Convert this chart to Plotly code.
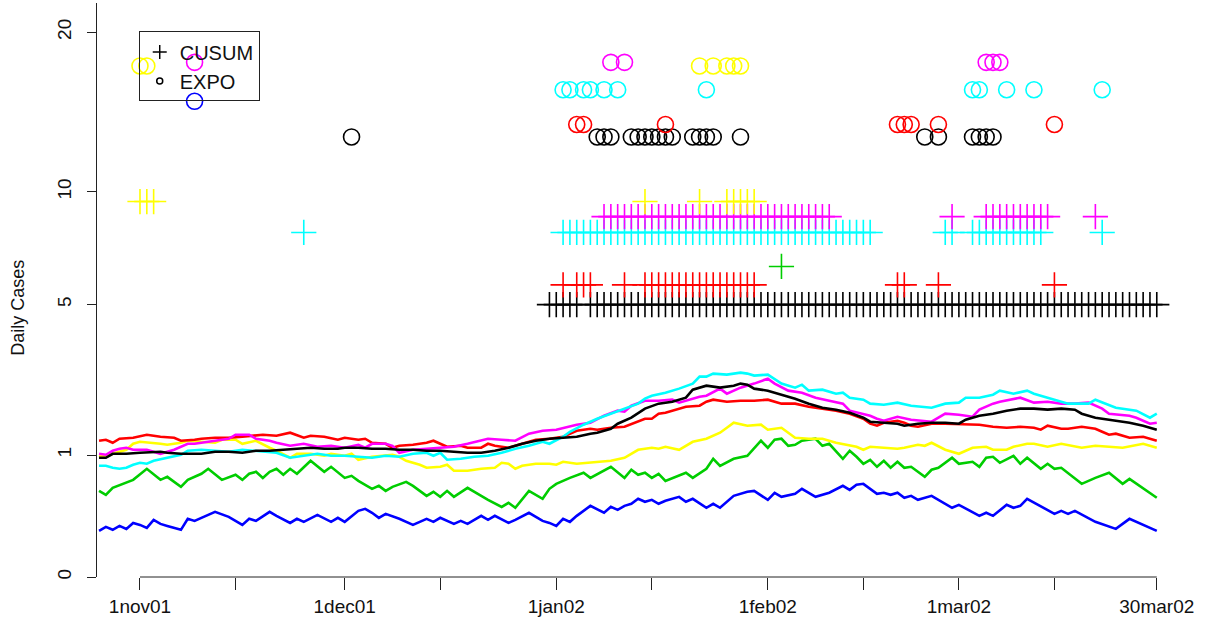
import numpy as np
import pandas as pd
import plotly.graph_objects as go

START = pd.Timestamp("2001-11-01")  # day 0

# ---------------- daily case series (day offset from 1 Nov 2001, daily cases) ----------------
BLUE_DAYS = [-6,-5,-4,-3,-2,-1,0,1,2,3,4,6,7,8,9,11,13,15,16,17,19,20,22,23,24,26,28,29,30,32,33,34,35,36,38,40,42,43,44,46,47,48,50,51,52,54,55,57,59,60,61,62,63,64,66,68,69,70,71,72,73,74,75,76,77,79,80,81,83,84,85,87,89,90,92,93,94,96,97,99,101,103,104,105,106,108,109,110,111,112,113,114,116,119,120,123,124,125,127,128,129,130,134,135,136,137,140,143,145,149]
BLUE_VALS = [0.143,0.169,0.150,0.176,0.156,0.197,0.183,0.163,0.220,0.190,0.176,0.150,0.228,0.212,0.236,0.286,0.244,0.183,0.228,0.212,0.286,0.252,0.197,0.228,0.205,0.260,0.205,0.236,0.205,0.295,0.313,0.278,0.236,0.269,0.228,0.183,0.228,0.205,0.236,0.190,0.212,0.190,0.252,0.220,0.252,0.197,0.220,0.278,0.212,0.197,0.176,0.228,0.205,0.252,0.341,0.278,0.332,0.304,0.341,0.361,0.412,0.381,0.401,0.361,0.391,0.433,0.381,0.412,0.323,0.361,0.323,0.444,0.489,0.500,0.401,0.478,0.433,0.466,0.524,0.433,0.478,0.560,0.512,0.573,0.585,0.466,0.478,0.455,0.478,0.423,0.444,0.401,0.444,0.323,0.351,0.252,0.278,0.252,0.351,0.323,0.341,0.412,0.269,0.295,0.269,0.295,0.205,0.156,0.228,0.143]

GREEN_DAYS = [-6,-5,-4,-1,1,3,4,6,7,8,9,10,12,14,15,16,17,18,19,20,21,22,23,25,27,28,30,31,32,34,35,36,37,39,40,42,43,44,45,46,48,51,53,54,55,57,59,60,61,63,65,66,69,71,72,73,74,75,76,77,80,81,83,84,85,87,89,91,92,93,94,95,96,97,99,100,101,103,104,105,106,107,108,109,110,111,112,113,115,116,117,119,120,122,123,124,125,126,128,129,130,132,133,134,135,138,140,142,144,145,149]
GREEN_VALS = [0.500,0.455,0.536,0.636,0.789,0.636,0.676,0.548,0.636,0.676,0.718,0.789,0.636,0.704,0.636,0.718,0.746,0.662,0.746,0.789,0.704,0.789,0.718,0.910,0.746,0.818,0.662,0.690,0.623,0.524,0.560,0.500,0.548,0.610,0.560,0.444,0.489,0.433,0.500,0.433,0.536,0.401,0.331,0.371,0.323,0.500,0.412,0.524,0.585,0.662,0.732,0.662,0.818,0.662,0.775,0.704,0.732,0.662,0.718,0.623,0.732,0.662,0.789,0.942,0.833,0.942,0.990,1.251,1.126,1.270,1.288,1.160,1.178,1.251,1.288,1.160,1.196,0.942,1.074,0.974,0.864,0.926,0.818,0.910,0.804,0.894,0.804,0.818,0.676,0.775,0.804,0.958,0.864,0.894,0.818,0.958,0.974,0.879,0.990,0.864,0.958,0.789,0.864,0.789,0.804,0.585,0.662,0.732,0.585,0.649,0.423]

YELLOW_DAYS = [-6,-5,-4,-2,-1,0,3,4,6,7,9,11,12,14,15,17,19,20,22,23,25,27,28,30,31,32,34,36,37,38,39,41,42,44,45,46,48,50,52,53,54,55,56,58,60,61,62,64,66,67,69,71,73,74,75,76,77,79,81,83,85,86,87,89,91,92,94,96,98,100,102,105,106,107,109,111,112,114,115,116,118,120,122,124,125,127,128,130,131,133,135,138,140,144,147,149]
YELLOW_VALS = [0.990,0.974,1.023,1.091,1.196,1.232,1.196,1.178,1.214,1.251,1.232,1.214,1.270,1.270,1.196,1.251,1.126,1.074,0.958,1.023,1.023,0.990,1.023,0.990,1.023,0.926,0.974,0.990,1.007,0.974,0.910,0.849,0.804,0.818,0.849,0.760,0.760,0.789,0.804,0.879,0.864,0.789,0.833,0.864,0.864,0.849,0.894,0.864,0.879,0.894,0.910,0.958,1.091,1.108,1.126,1.108,1.143,1.091,1.232,1.288,1.403,1.500,1.604,1.542,1.563,1.462,1.500,1.307,1.288,1.288,1.214,1.143,1.091,1.143,1.126,1.108,1.126,1.178,1.160,1.214,1.091,1.023,1.126,1.143,1.091,1.091,1.143,1.196,1.196,1.143,1.196,1.126,1.160,1.126,1.196,1.126]

RED_DAYS = [-6,-5,-4,-3,-1,1,2,3,5,6,8,9,11,13,15,18,20,22,24,25,27,29,30,32,33,34,36,37,38,40,42,43,44,45,47,48,50,51,52,54,56,58,60,62,64,66,67,69,71,73,74,75,76,77,78,80,82,83,84,86,88,90,92,94,96,98,100,102,104,106,107,108,109,110,111,112,113,114,116,118,121,123,125,127,129,131,132,133,135,136,138,140,141,142,143,145,147,149]
RED_VALS = [1.251,1.270,1.214,1.288,1.307,1.364,1.345,1.326,1.307,1.251,1.270,1.288,1.307,1.307,1.326,1.364,1.345,1.403,1.307,1.345,1.326,1.270,1.307,1.270,1.288,1.214,1.196,1.126,1.160,1.178,1.214,1.251,1.196,1.143,1.160,1.126,1.126,1.196,1.160,1.126,1.196,1.270,1.288,1.326,1.442,1.482,1.462,1.500,1.521,1.625,1.689,1.689,1.797,1.819,1.864,1.955,1.978,2.071,2.119,2.071,2.095,2.095,2.119,2.025,2.025,1.955,1.910,1.864,1.797,1.689,1.584,1.542,1.604,1.625,1.646,1.604,1.542,1.521,1.584,1.584,1.563,1.563,1.521,1.500,1.521,1.500,1.462,1.542,1.482,1.482,1.521,1.482,1.422,1.364,1.384,1.307,1.326,1.251]

MAGENTA_DAYS = [-6,-5,-4,-3,-2,-1,1,2,3,5,6,7,8,9,11,13,14,16,17,19,20,22,24,26,28,30,32,33,34,36,37,38,40,42,44,46,48,50,51,53,55,57,59,61,63,64,66,68,70,71,72,74,76,78,79,80,82,83,85,86,88,90,92,93,95,97,99,101,103,104,107,108,109,111,113,116,118,120,122,123,125,126,129,131,133,135,137,139,141,142,145,146,148,149]
MAGENTA_VALS = [1.023,1.007,1.074,1.108,1.126,1.091,1.091,1.057,1.023,1.091,1.143,1.196,1.196,1.214,1.251,1.288,1.364,1.364,1.288,1.251,1.214,1.160,1.196,1.143,1.160,1.126,1.178,1.126,1.196,1.196,1.160,1.040,1.091,1.108,1.126,1.143,1.196,1.251,1.288,1.270,1.251,1.384,1.442,1.462,1.521,1.563,1.604,1.753,1.864,1.841,1.978,2.095,2.095,2.119,2.048,2.095,2.190,2.215,2.391,2.265,2.416,2.520,2.652,2.520,2.340,2.290,2.167,2.095,2.025,1.864,1.753,1.689,1.646,1.731,1.668,1.625,1.797,1.775,1.731,1.887,2.025,2.071,2.167,2.048,2.071,2.025,2.025,2.048,1.910,1.797,1.753,1.710,1.584,1.604]

CYAN_DAYS = [-6,-5,-4,-3,-2,-1,0,1,2,4,6,7,9,11,13,15,17,19,20,22,24,26,28,30,32,34,36,38,40,42,43,44,45,47,49,51,53,55,57,59,60,62,63,65,67,69,71,73,74,75,77,79,81,82,83,84,86,88,89,90,92,94,96,97,98,100,102,103,104,106,107,109,111,113,116,118,120,121,123,125,126,128,130,131,133,136,139,140,143,146,148,149]
CYAN_VALS = [0.833,0.833,0.804,0.789,0.804,0.849,0.879,0.864,0.910,0.958,1.007,1.074,1.091,1.074,1.057,1.091,1.074,1.057,1.040,0.958,0.990,1.023,0.990,0.990,0.974,0.958,0.990,0.974,1.023,1.040,0.990,1.040,0.926,0.942,0.974,0.990,1.040,1.108,1.160,1.232,1.196,1.326,1.422,1.563,1.689,1.797,1.910,2.025,2.143,2.215,2.290,2.391,2.520,2.706,2.706,2.788,2.760,2.815,2.788,2.733,2.760,2.520,2.416,2.493,2.340,2.365,2.265,2.290,2.167,2.119,2.025,2.001,2.048,1.978,1.932,2.025,2.048,2.167,2.167,2.240,2.340,2.265,2.340,2.265,2.167,2.025,2.025,2.119,1.932,1.864,1.710,1.797]

BLACK_DAYS = [-6,-5,-4,-2,0,3,4,6,8,9,11,13,15,17,19,21,23,25,27,29,30,32,34,36,38,40,42,44,46,48,50,52,54,56,58,60,62,64,66,67,69,70,72,74,76,78,80,81,83,85,87,88,89,90,92,94,96,98,100,102,104,106,107,109,111,112,114,116,118,120,121,123,125,127,129,131,133,135,137,138,140,142,145,147,149]
BLACK_VALS = [0.958,0.958,1.023,1.023,1.040,1.057,1.040,1.023,1.023,1.023,1.057,1.057,1.040,1.074,1.074,1.091,1.108,1.126,1.108,1.108,1.126,1.126,1.108,1.108,1.091,1.091,1.074,1.074,1.057,1.040,1.040,1.074,1.126,1.196,1.251,1.288,1.307,1.326,1.384,1.403,1.482,1.584,1.710,1.910,2.025,2.071,2.167,2.365,2.467,2.416,2.467,2.520,2.493,2.391,2.340,2.240,2.143,2.025,1.932,1.887,1.819,1.710,1.625,1.604,1.584,1.542,1.584,1.604,1.604,1.584,1.668,1.753,1.797,1.864,1.910,1.910,1.887,1.910,1.887,1.797,1.710,1.668,1.604,1.542,1.462]

# ---------------- alarms ----------------
# CUSUM alarm runs (first day, last day) and the level at which they are drawn
CUSUM_BLACK = [(60, 64), (66, 149)]
CUSUM_RED = [(62, 62), (64, 66), (71, 71), (74, 90), (111, 112), (117, 117), (134, 134)]
CUSUM_GREEN = [(94, 94)]
CUSUM_CYAN = [(24, 24), (62, 107), (118, 119), (122, 132), (141, 141)]
CUSUM_MAGENTA = [(68, 101), (119, 119), (124, 133), (140, 140)]
CUSUM_YELLOW = [(0, 2), (74, 74), (82, 82), (86, 90)]
CUSUM_LEVELS = {"black": 5.0, "red": 5.75, "green": 6.5, "cyan": 8.0, "magenta": 8.75, "yellow": 9.5}

# EXPO alarm days and levels
EXPO_BLACK = [31, 67, 68, 69, 72, 73, 74, 75, 76, 77, 78, 81, 82, 83, 84, 88, 115, 117, 122, 123, 124, 125]
EXPO_RED = [64, 65, 77, 111, 112, 113, 117, 134]
EXPO_BLUE = [8]
EXPO_CYAN = [62, 63, 65, 66, 68, 70, 83, 122, 123, 127, 131, 141]
EXPO_YELLOW = [0, 1, 82, 84, 86, 87, 88]
EXPO_MAGENTA = [8, 69, 71, 124, 125, 126]
EXPO_LEVELS = {"black": 13.05, "red": 13.8, "blue": 15.25, "cyan": 16.0, "yellow": 17.6, "magenta": 17.85}

Y_TICKS = [0, 1, 5, 10, 20]
X_TICK_DATES = ["2001-11-01", "2001-11-15", "2001-12-01", "2001-12-15", "2002-01-01", "2002-01-15",
                "2002-02-01", "2002-02-15", "2002-03-01", "2002-03-15", "2002-03-30"]
X_TICK_TEXT = ["1nov01", "", "1dec01", "", "1jan02", "", "1feb02", "", "1mar02", "", "30mar02"]

COLORS = {"blue": "#0000FF", "green": "#00CD00", "yellow": "#FFFF00", "red": "#FF0000",
          "magenta": "#FF00FF", "cyan": "#00FFFF", "black": "#000000"}


def dates(days):
    return [START + pd.Timedelta(days=int(d)) for d in days]


def tr(v):
    return np.sqrt(np.asarray(v, dtype=float))


def expand(runs):
    out = []
    for a, b in runs:
        out.extend(range(a, b + 1))
    return out


fig = go.Figure()

series = [("blue", BLUE_DAYS, BLUE_VALS), ("green", GREEN_DAYS, GREEN_VALS),
          ("yellow", YELLOW_DAYS, YELLOW_VALS), ("red", RED_DAYS, RED_VALS),
          ("magenta", MAGENTA_DAYS, MAGENTA_VALS), ("cyan", CYAN_DAYS, CYAN_VALS),
          ("black", BLACK_DAYS, BLACK_VALS)]
for name, d, v in series:
    fig.add_trace(go.Scatter(x=dates(d), y=tr(v), mode="lines",
                             line=dict(color=COLORS[name], width=2.6),
                             showlegend=False, hoverinfo="skip"))

cusum = [("black", CUSUM_BLACK), ("red", CUSUM_RED), ("green", CUSUM_GREEN),
         ("cyan", CUSUM_CYAN), ("magenta", CUSUM_MAGENTA), ("yellow", CUSUM_YELLOW)]
for name, runs in cusum:
    days = expand(runs)
    fig.add_trace(go.Scatter(x=dates(days), y=tr([CUSUM_LEVELS[name]] * len(days)), mode="markers",
                             marker=dict(symbol="cross-thin", size=18, color=COLORS[name],
                                         line=dict(color=COLORS[name], width=1.6)),
                             showlegend=False, hoverinfo="skip"))

expo = [("black", EXPO_BLACK), ("red", EXPO_RED), ("blue", EXPO_BLUE), ("cyan", EXPO_CYAN),
        ("yellow", EXPO_YELLOW), ("magenta", EXPO_MAGENTA)]
for name, days in expo:
    fig.add_trace(go.Scatter(x=dates(days), y=tr([EXPO_LEVELS[name]] * len(days)), mode="markers",
                             marker=dict(symbol="circle-open", size=16, color=COLORS[name],
                                         line=dict(color=COLORS[name], width=1.6)),
                             showlegend=False, hoverinfo="skip"))

# legend entries
fig.add_trace(go.Scatter(x=[None], y=[None], mode="markers", name="CUSUM",
                         marker=dict(symbol="cross-thin", size=10, color="black",
                                     line=dict(color="black", width=1.5))))
fig.add_trace(go.Scatter(x=[None], y=[None], mode="markers", name="EXPO",
                         marker=dict(symbol="circle-open", size=6, color="black",
                                     line=dict(color="black", width=1.5))))

FONT = "Liberation Sans, Arial, Helvetica, sans-serif"
AX = "#222"

fig.update_layout(
    width=1205, height=624, autosize=False,
    margin=dict(l=97, r=10, t=3, b=47),
    plot_bgcolor="white", paper_bgcolor="white",
    font=dict(family=FONT, color="black", size=19),
    xaxis=dict(type="date",
               range=[START - pd.Timedelta(hours=6.3 * 24), START + pd.Timedelta(hours=154.6 * 24)],
               tickvals=pd.to_datetime(X_TICK_DATES), ticktext=X_TICK_TEXT,
               ticks="outside", ticklen=12, tickwidth=1, tickcolor=AX,
               showgrid=False, zeroline=False, showline=False, automargin=False,
               tickfont=dict(size=19, family=FONT, color="#111")),
    yaxis=dict(range=[0, 4.712],
               tickvals=tr(Y_TICKS), ticktext=[str(t) for t in Y_TICKS],
               tickangle=-90, ticks="outside", ticklen=9, tickwidth=1, tickcolor=AX,
               ticklabelstandoff=8, automargin=False,
               showgrid=False, zeroline=False, showline=True, linecolor=AX, linewidth=1,
               tickfont=dict(size=19, family=FONT, color="#111")),
    legend=dict(x=0.038, y=0.9505, xanchor="left", yanchor="top",
                bgcolor="rgba(0,0,0,0)", bordercolor=AX, borderwidth=1,
                font=dict(size=20, family=FONT, color="#111"), itemwidth=30,
                tracegroupgap=0),
    shapes=[
        dict(type="line", xref="x", yref="paper",
             x0=pd.Timestamp(X_TICK_DATES[0]), x1=pd.Timestamp(X_TICK_DATES[-1]), y0=0, y1=0,
             line=dict(color=AX, width=1)),
    ],
    annotations=[dict(text="Daily Cases", textangle=-90, xref="paper", yref="paper",
                      x=-0.072, y=0.469, xanchor="center", yanchor="middle", showarrow=False,
                      font=dict(size=18, family=FONT, color="#111"))],
)

fig.write_html("out.html", config={"displayModeBar": False},
               post_script="document.body.style.margin='0';document.body.style.overflow='hidden';")
